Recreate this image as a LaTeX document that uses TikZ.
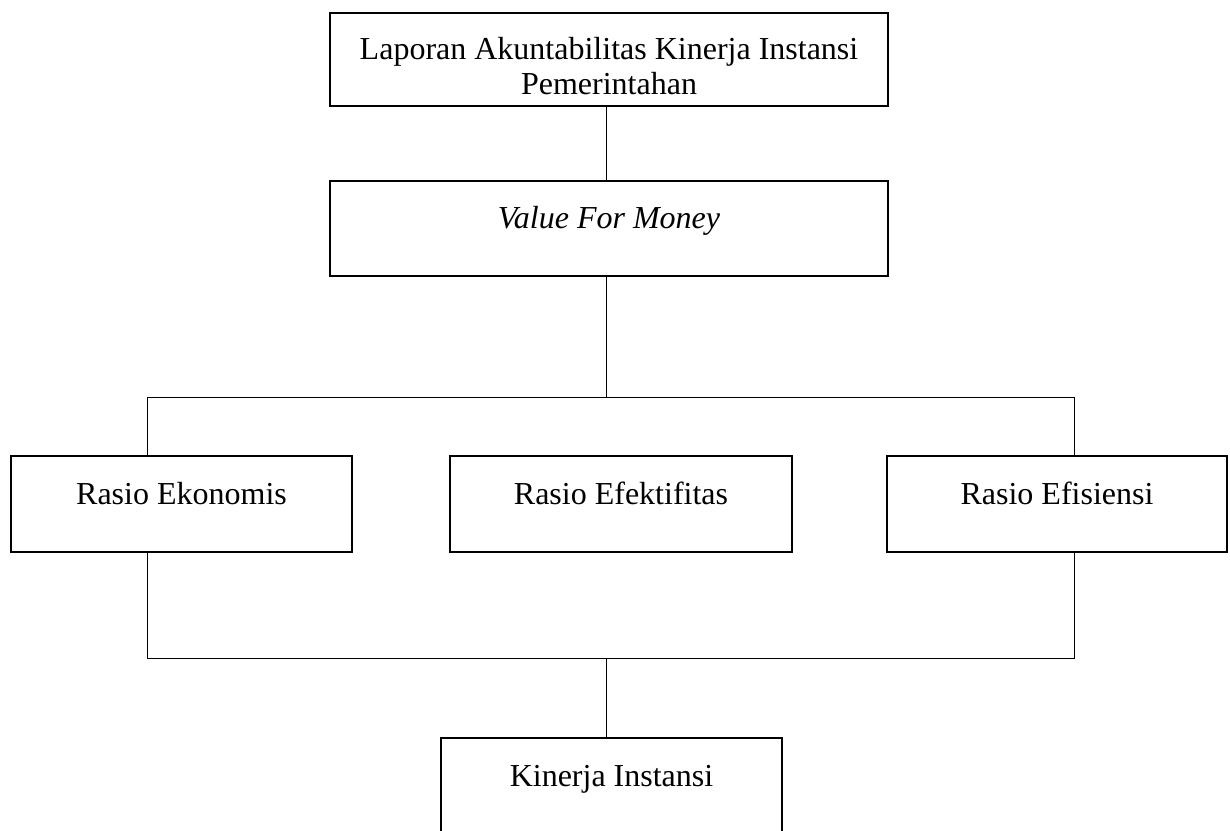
\documentclass[tikz,border=0pt]{standalone}
\usepackage{fontspec}
\setmainfont{Liberation Serif}
\usetikzlibrary{positioning}
\tikzset{
    box/.style={draw, line width=1.6pt, inner sep=0pt, align=center,
        font=\fontsize{32}{35}\selectfont, text height=48pt, text depth=48pt},
    link/.style={line width=1pt}
}

\begin{document}
\begin{tikzpicture}[x=1pt, y=-1pt]
    \useasboundingbox (0, 0) rectangle (1230, 830);
    % boxes
    \node[box, minimum width=558pt, text height=81pt, text depth=12pt] (lakip) at (609, 59.5)
        {Laporan Akuntabilitas Kinerja Instansi\\Pemerintahan};
    \node[box, minimum width=558pt, text height=47.5pt, text depth=47.5pt] (vfm) at (609, 228.5)
        {\textit{Value For Money}};
    \node[box, minimum width=341pt] (ekonomis) at (181.5, 504) {Rasio Ekonomis};
    \node[box, minimum width=342pt] (efektif) at (621, 504) {Rasio Efektifitas};
    \node[box, minimum width=340pt] (efisien) at (1057, 504) {Rasio Efisiensi};
    \node[box, minimum width=341pt] (kinerja) at (611.5, 786) {Kinerja Instansi};
    % junctions
    \coordinate (splitT) at (606, 397);
    \coordinate (splitL) at (147, 397);
    \coordinate (splitR) at (1074, 397);
    \coordinate (joinB) at (606, 658);
    \coordinate (joinL) at (147, 658);
    \coordinate (joinR) at (1074, 658);
    % connectors
    \draw[link] (lakip.south -| splitT) -- (vfm.north -| splitT);
    \draw[link] (vfm.south -| splitT) -- (splitT);
    \draw[link] (splitL |- ekonomis.north) -- (splitL) -- (splitR) -- (splitR |- efisien.north);
    \draw[link] (splitL |- ekonomis.south) -- (joinL) -- (joinR) -- (splitR |- efisien.south);
    \draw[link] (joinB) -- (kinerja.north -| joinB);
\end{tikzpicture}
\end{document}
